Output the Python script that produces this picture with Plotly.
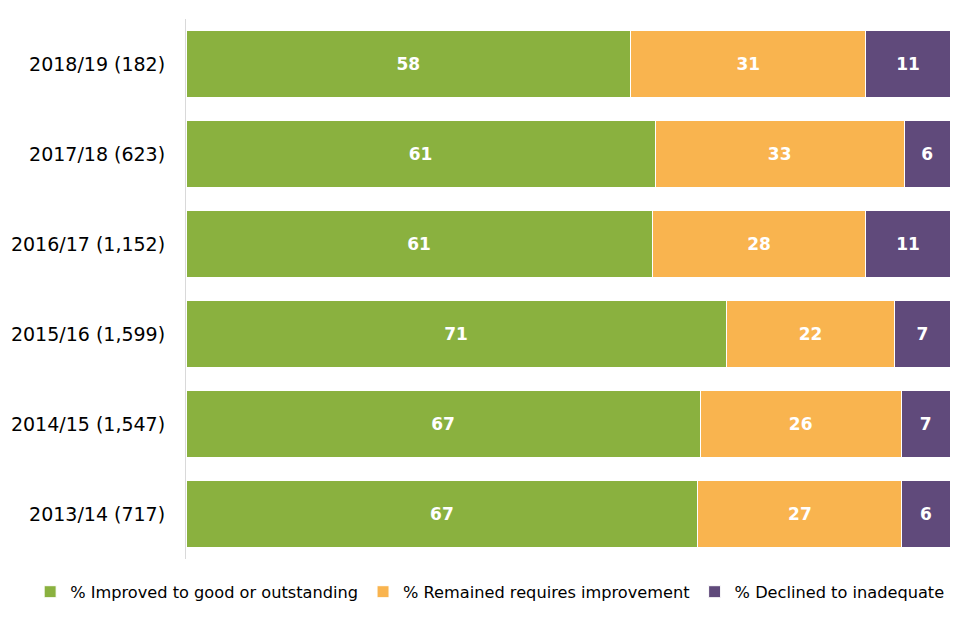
import plotly.graph_objects as go

categories = ["2018/19 (182)", "2017/18 (623)", "2016/17 (1,152)",
              "2015/16 (1,599)", "2014/15 (1,547)", "2013/14 (717)"]
improved = [58.2, 61.4, 61.0, 70.7, 67.3, 67.0]
remained = [30.8, 32.6, 28.0, 22.1, 26.3, 26.7]
declined = [11.0, 6.0, 11.0, 7.2, 6.4, 6.3]
improved_lbl = [58, 61, 61, 71, 67, 67]
remained_lbl = [31, 33, 28, 22, 26, 27]
declined_lbl = [11, 6, 11, 7, 7, 6]

series = [
    ("% Improved to good or outstanding", improved, improved_lbl, "#8AB13F"),
    ("% Remained requires improvement", remained, remained_lbl, "#F9B44F"),
    ("% Declined to inadequate", declined, declined_lbl, "#604A7B"),
]

FONT = "DejaVu Sans"
fig = go.Figure()
for name, vals, lbls, col in series:
    fig.add_trace(go.Bar(
        y=categories, x=vals, name=name, orientation="h",
        marker=dict(color=col, line=dict(color="white", width=1)),
        text=[str(v) for v in lbls], textposition="inside",
        insidetextanchor="middle", textangle=0,
        textfont=dict(color="white", size=17, family=FONT),
        texttemplate="<b>%{text}</b>", hoverinfo="x+name",
    ))

# page body has an 8px default margin: compensate in the figure margins
fig.update_layout(
    barmode="stack", bargap=0.255,
    width=952, height=624,
    margin=dict(l=178, r=10, t=11, b=73, autoexpand=False),
    plot_bgcolor="white", paper_bgcolor="white",
    font=dict(family=FONT, size=18, color="black"),
    legend=dict(orientation="h", x=-0.204, xanchor="left",
                y=-0.029, yanchor="top",
                font=dict(size=16.2, family=FONT), traceorder="normal",
                itemwidth=30, tracegroupgap=0),
    showlegend=True,
)
fig.update_xaxes(range=[0, 100], showticklabels=False, showgrid=False,
                 zeroline=False, showline=False, fixedrange=True,
                 automargin=False)
fig.update_yaxes(categoryorder="array", categoryarray=categories[::-1],
                 showline=True, linecolor="#D9D9D9", linewidth=1,
                 ticks="", ticklen=0, showgrid=False, ticksuffix="  ",
                 ticklabelstandoff=4, automargin=False,
                 tickfont=dict(size=19, family=FONT, color="black"))

fig.write_html("out.html")
